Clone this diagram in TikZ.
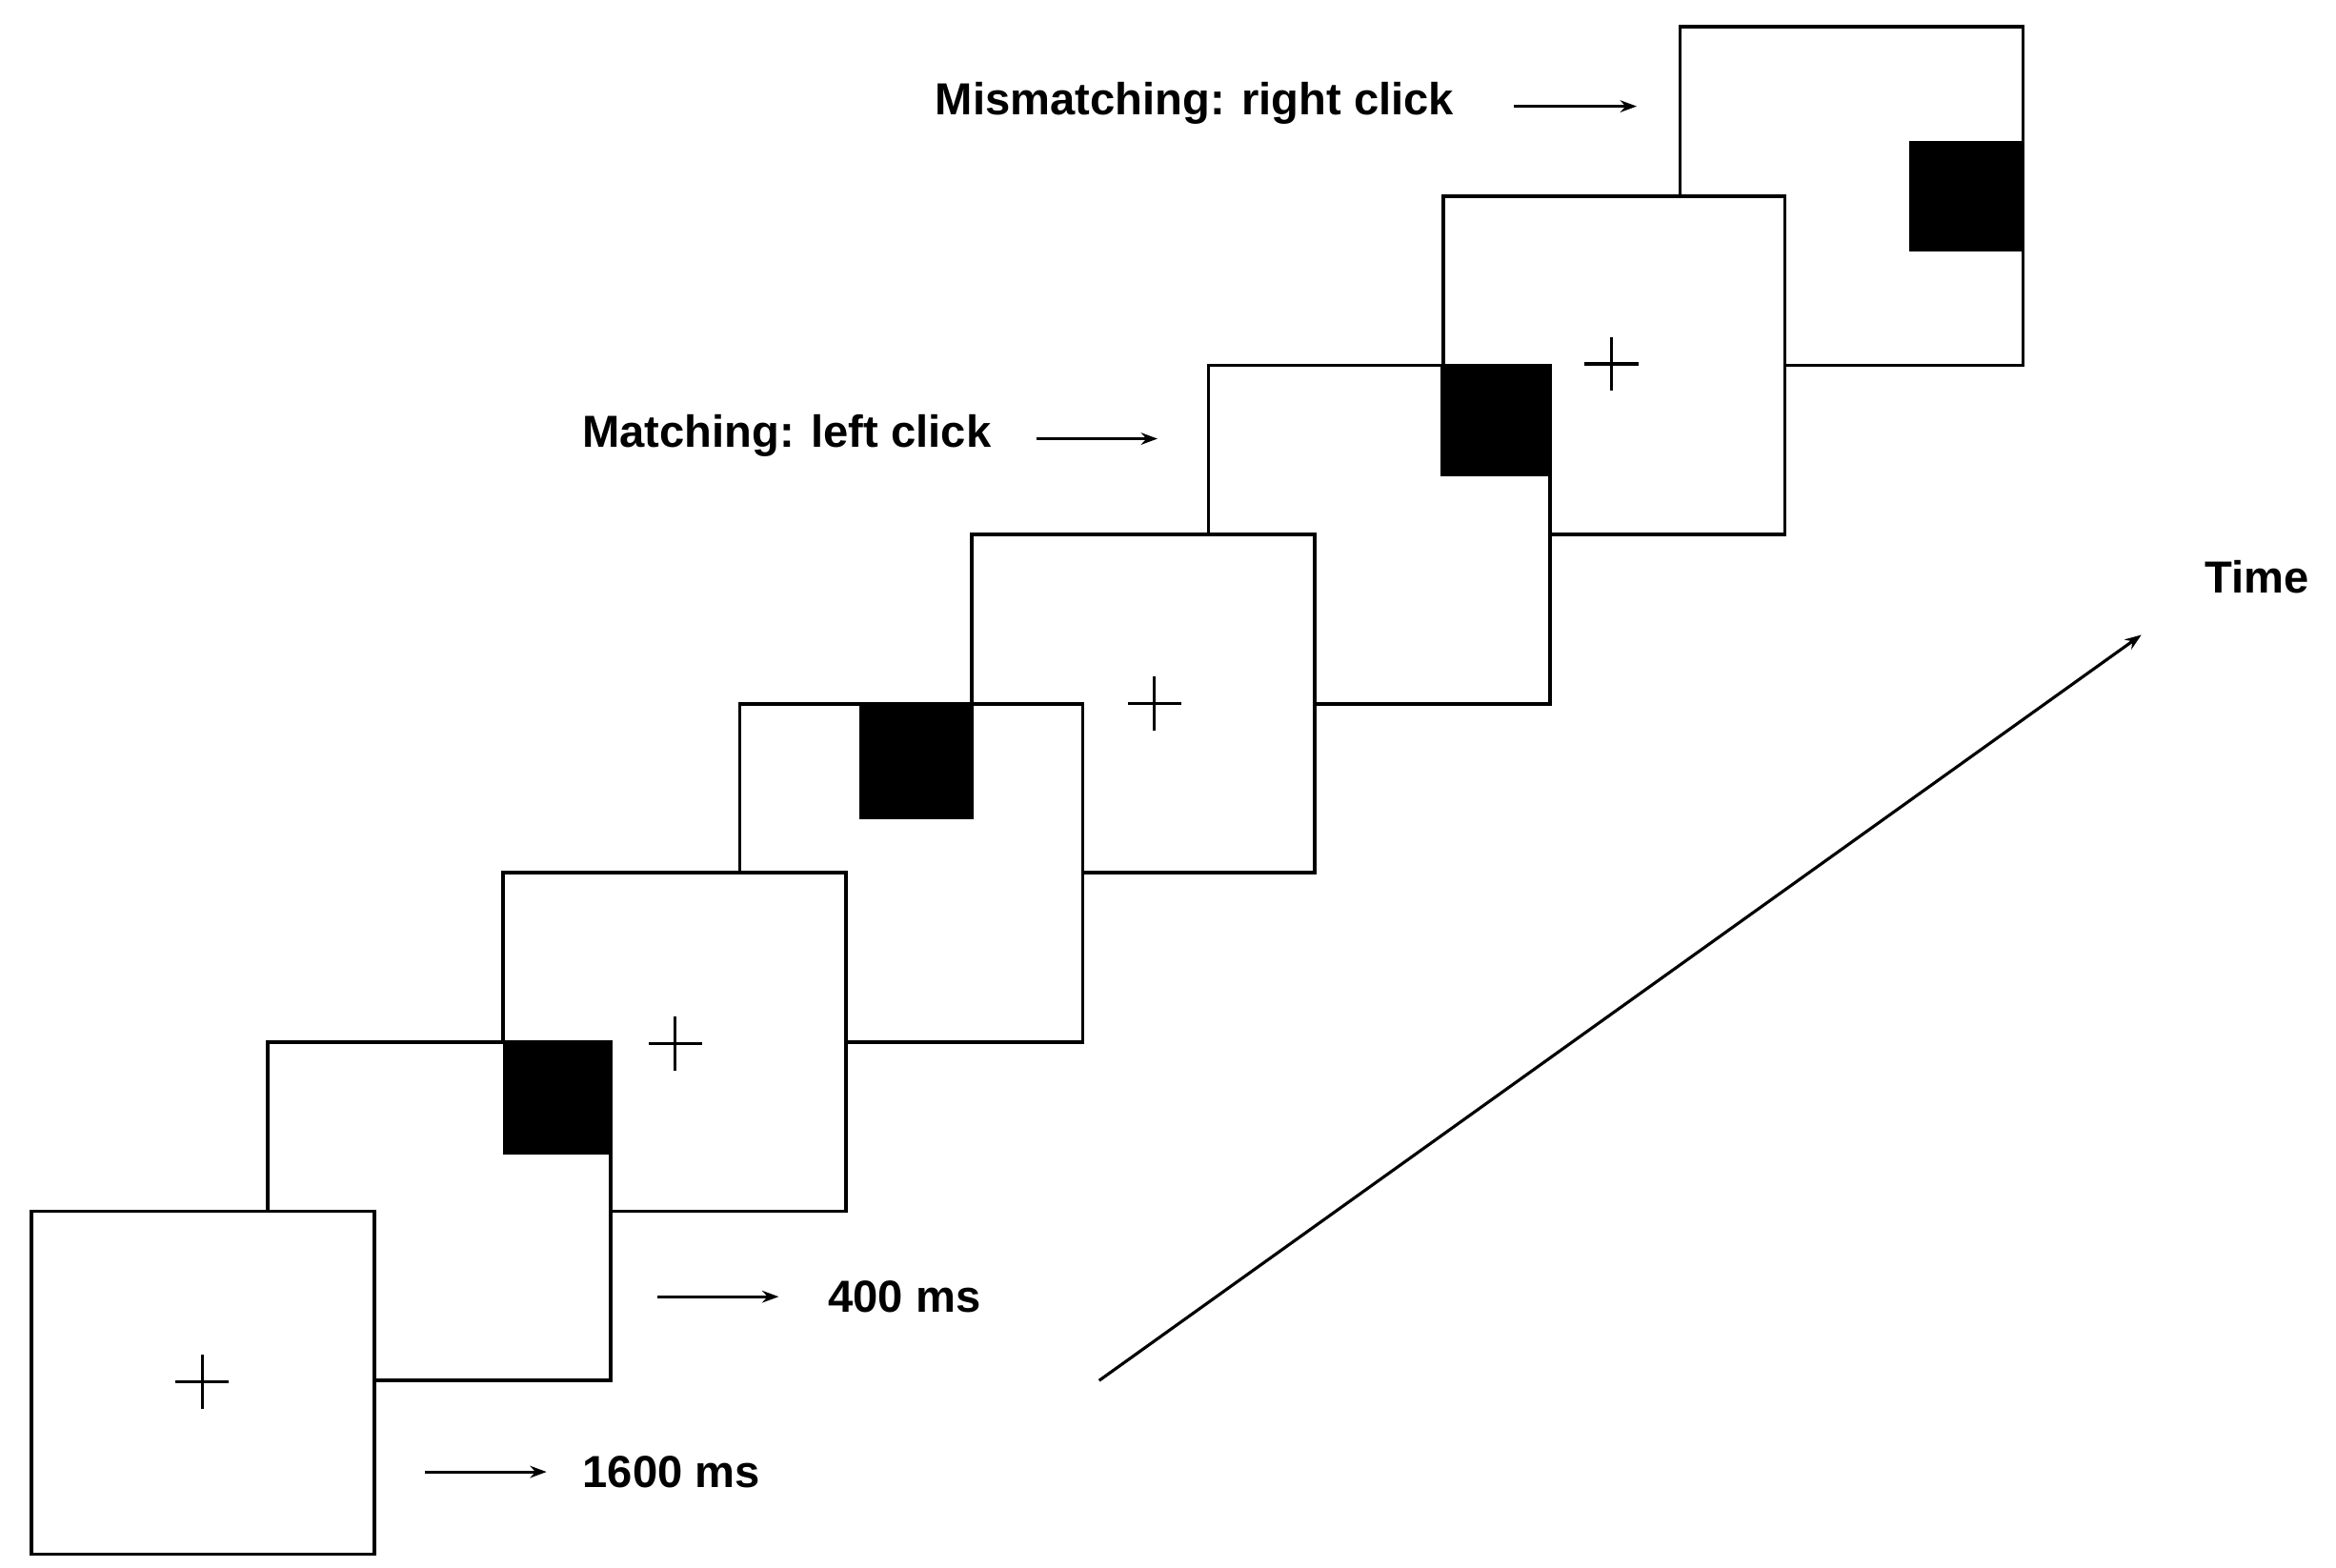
\documentclass[tikz,border=0pt]{standalone}
\usepackage{fontspec}
\setmainfont{Liberation Sans}
\usetikzlibrary{arrows.meta}
\begin{document}
\begin{tikzpicture}[x=1pt,y=-1pt,
  frame/.style={draw=black,fill=white,line width=2.4pt},
  blk/.style={fill=black},
  crs/.style={line width=2pt},
  arr/.style={line width=2pt,-{Stealth[length=11pt,width=8pt]}},
  lbl/.style={font=\bfseries\fontsize{30}{36}\selectfont,inner sep=0pt}]
\useasboundingbox (0,0) rectangle (1560,1047);
% frames from back to front
\draw[frame] (1122,18) rectangle (1351,244);
\fill[blk] (1275,94) rectangle (1351,168);
\draw[frame] (964,131) rectangle (1192,357);
\draw[crs] (1058,243)--(1094,243) (1076,225)--(1076,261);
\draw[frame] (807,244) rectangle (1035,470);
\fill[blk] (962,244) rectangle (1036,318);
\draw[frame] (649,357) rectangle (878,583);
\draw[crs] (753,470)--(789,470) (771,452)--(771,488);
\draw[frame] (494,470) rectangle (723,696);
\fill[blk] (574,470) rectangle (650,547);
\draw[frame] (336,583) rectangle (565,809);
\draw[crs] (433,697)--(469,697) (451,679)--(451,715);
\draw[frame] (179,696) rectangle (408,922);
\fill[blk] (336,696) rectangle (409,771);
\draw[frame] (21,809) rectangle (250,1038);
\draw[crs] (117,923)--(153,923) (135,905)--(135,941);
% arrows and labels
\coordinate (a1s) at (284,983); \coordinate (a1e) at (365,983);
\draw[arr] (a1s)--(a1e);
\node[lbl,anchor=west] (t1) at (389,983) {1600 ms};
\coordinate (a2s) at (439,866); \coordinate (a2e) at (520,866);
\draw[arr] (a2s)--(a2e);
\node[lbl,anchor=west] (t2) at (553,866) {400 ms};
\coordinate (a3s) at (692,293); \coordinate (a3e) at (773,293);
\draw[arr] (a3s)--(a3e);
\node[lbl,anchor=east] (t3) at (662,291) {Matching: left click};
\coordinate (a4s) at (1011,71); \coordinate (a4e) at (1093,71);
\draw[arr] (a4s)--(a4e);
\node[lbl,anchor=east] (t4) at (971,69) {Mismatching: right click};
\coordinate (ts) at (734,922); \coordinate (te) at (1430,424);
\draw[arr] (ts)--(te);
\node[lbl] (time) at (1507,385) {Time};
\end{tikzpicture}
\end{document}
